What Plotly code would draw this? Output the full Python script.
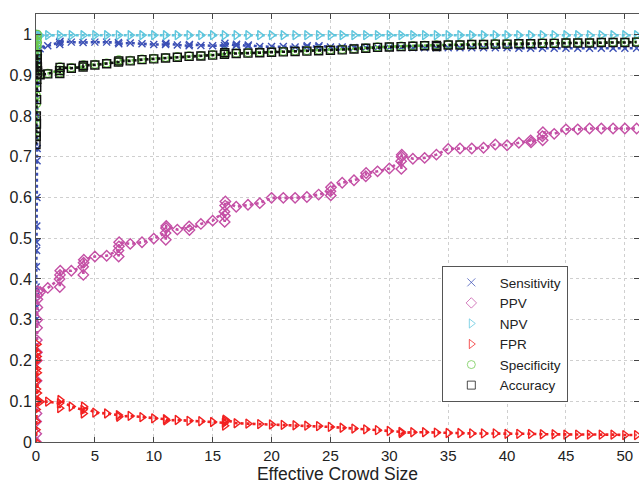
import plotly.graph_objects as go

# x positions
cluster_x = [0.0, 0.01, 0.02, 0.03, 0.04, 0.05, 0.06, 0.07, 0.08, 0.09, 0.10, 0.11, 0.12, 0.13, 0.14]
main_x = [0.35, 1, 2, 3, 4, 5, 6, 7, 8, 9, 10, 11, 12, 13, 14, 15, 16, 17, 18, 19, 20,
          21, 22, 23, 24, 25, 26, 27, 28, 29, 30, 31, 32, 33, 34, 35, 36, 37, 38, 39, 40,
          41, 42, 43, 44, 45, 46, 47, 48, 49, 50, 51]

# Sensitivity
sens_cluster = [0.30, 0.38, 0.33, 0.43, 0.36, 0.47, 0.49, 0.53, 0.60, 0.69, 0.72, 0.80, 0.88, 0.94, 0.965]
sens_main = [0.965, 0.972, 0.980, 0.981, 0.980, 0.981, 0.981, 0.980, 0.979, 0.977, 0.975,
             0.975, 0.974, 0.972, 0.973, 0.972, 0.973, 0.973, 0.971, 0.970, 0.970,
             0.970, 0.969, 0.969, 0.969, 0.969, 0.969, 0.968, 0.968, 0.968, 0.968,
             0.968, 0.967, 0.967, 0.967, 0.967, 0.967, 0.967, 0.967, 0.967, 0.967,
             0.966, 0.966, 0.966, 0.966, 0.966, 0.966, 0.966, 0.966, 0.966, 0.966, 0.966]
sens_blob_x = [2.02, 2.04, 7.03, 11.03, 13.03, 16.02, 16.04, 17.03, 18.03, 23.03, 24.03]
sens_blob_y = [0.975, 0.983, 0.977, 0.978, 0.975, 0.968, 0.978, 0.976, 0.974, 0.972, 0.972]

# PPV
ppv_cluster = [0.0, 0.05, 0.02, 0.10, 0.07, 0.15, 0.20, 0.25, 0.22, 0.28, 0.30, 0.33, 0.35, 0.36, 0.37]
ppv_main = [0.368, 0.378, 0.400, 0.420, 0.430, 0.455, 0.457, 0.470, 0.486, 0.490, 0.499,
            0.513, 0.521, 0.529, 0.535, 0.543, 0.565, 0.577, 0.582, 0.586, 0.599,
            0.599, 0.599, 0.601, 0.607, 0.615, 0.636, 0.642, 0.652, 0.664, 0.671,
            0.689, 0.695, 0.697, 0.705, 0.719, 0.720, 0.720, 0.722, 0.730, 0.728,
            0.734, 0.740, 0.750, 0.756, 0.767, 0.767, 0.769, 0.769, 0.769, 0.769, 0.769]
ppv_blob_x = [2.02, 2.04, 2.06, 4.02, 4.04, 4.06, 7.02, 7.04, 7.06, 11.02, 11.04, 11.06,
              13.03, 16.02, 16.04, 16.06, 16.08, 25.03, 25.05, 28.03, 31.02, 31.04, 31.06,
              42.03, 43.02, 43.04]
ppv_blob_y = [0.380, 0.410, 0.420, 0.410, 0.440, 0.447, 0.455, 0.480, 0.490, 0.496, 0.525, 0.530,
              0.520, 0.540, 0.555, 0.580, 0.590, 0.605, 0.625, 0.660, 0.670, 0.700, 0.705,
              0.735, 0.740, 0.760]

# NPV
npv_cluster = [0.93, 0.95, 0.94, 0.96, 0.97, 0.98, 0.99, 1.0, 0.99, 1.0, 0.995, 1.0, 0.998, 0.997, 0.997]
npv_main = [0.997, 0.998, 0.998, 0.998, 0.998, 0.998, 0.998, 0.998, 0.998, 0.998, 0.998,
            0.998, 0.998, 0.998, 0.998, 0.998, 0.998, 0.998, 0.998, 0.998, 0.998,
            0.998, 0.998, 0.998, 0.998, 0.998, 0.998, 0.998, 0.998, 0.998, 0.998,
            0.998, 0.998, 0.998, 0.998, 0.998, 0.998, 0.998, 0.998, 0.998, 0.998,
            0.998, 0.998, 0.998, 0.998, 0.998, 0.998, 0.998, 0.998, 0.998, 0.998, 0.998]

# FPR
fpr_cluster = [0.0, 0.03, 0.05, 0.08, 0.10, 0.13, 0.15, 0.18, 0.20, 0.22, 0.24, 0.21, 0.17, 0.12, 0.10]
fpr_main = [0.099, 0.099, 0.095, 0.087, 0.079, 0.072, 0.070, 0.066, 0.064, 0.061, 0.058,
            0.056, 0.054, 0.052, 0.051, 0.049, 0.047, 0.046, 0.045, 0.044, 0.043,
            0.042, 0.041, 0.040, 0.039, 0.037, 0.035, 0.033, 0.031, 0.029, 0.027,
            0.025, 0.024, 0.024, 0.023, 0.022, 0.022, 0.021, 0.021, 0.021, 0.020,
            0.020, 0.020, 0.019, 0.019, 0.018, 0.018, 0.018, 0.018, 0.018, 0.017, 0.017]
fpr_blob_x = [2.02, 2.04, 4.02, 4.04, 7.03, 11.03, 16.02, 16.04, 16.06, 31.03]
fpr_blob_y = [0.083, 0.103, 0.070, 0.087, 0.062, 0.053, 0.040, 0.052, 0.055, 0.022]

# Specificity
spec_cluster = [0.75, 0.80, 0.78, 0.85, 0.83, 0.88, 0.90, 0.92, 0.95, 0.97, 0.99, 1.0, 0.98, 0.95, 0.91]
spec_main = [0.902, 0.904, 0.912, 0.918, 0.921, 0.926, 0.929, 0.933, 0.936, 0.939, 0.941,
             0.943, 0.945, 0.947, 0.948, 0.950, 0.952, 0.954, 0.955, 0.956, 0.957,
             0.958, 0.959, 0.960, 0.961, 0.962, 0.963, 0.965, 0.967, 0.969, 0.970,
             0.971, 0.972, 0.973, 0.974, 0.975, 0.975, 0.976, 0.976, 0.977, 0.977,
             0.978, 0.978, 0.979, 0.979, 0.980, 0.980, 0.980, 0.981, 0.981, 0.981, 0.982]
spec_blob_x = [2.02, 2.04, 4.03, 7.03, 16.03]
spec_blob_y = [0.905, 0.920, 0.925, 0.937, 0.956]

# Accuracy
acc_cluster = [0.73, 0.76, 0.75, 0.80, 0.78, 0.84, 0.87, 0.89, 0.91, 0.93, 0.95, 0.94, 0.92, 0.91, 0.905]
acc_main = [0.901, 0.903, 0.911, 0.917, 0.920, 0.925, 0.928, 0.932, 0.935, 0.938, 0.940,
            0.942, 0.944, 0.946, 0.947, 0.949, 0.951, 0.953, 0.954, 0.955, 0.956,
            0.957, 0.958, 0.959, 0.960, 0.961, 0.962, 0.964, 0.966, 0.968, 0.969,
            0.970, 0.971, 0.972, 0.973, 0.974, 0.974, 0.975, 0.975, 0.976, 0.976,
            0.977, 0.977, 0.978, 0.978, 0.979, 0.979, 0.979, 0.980, 0.980, 0.980, 0.981]
acc_blob_x = [2.02, 2.04, 4.03, 7.03, 16.03, 34.03]
acc_blob_y = [0.904, 0.919, 0.924, 0.935, 0.955, 0.970]

names = ["Sensitivity", "PPV", "NPV", "FPR", "Specificity", "Accuracy"]
colors = ["#3b4fb5", "#c44fa5", "#5ec6dd", "#f22020", "#6cc84c", "#111111"]
symbols = ["x-thin-open", "diamond-open", "triangle-right-open", "triangle-right-open",
           "circle-open", "square-open"]


def combine(cy, my, bx=None, by=None):
    pts = list(zip(cluster_x, cy)) + list(zip(main_x, my))
    if bx:
        pts += list(zip(bx, by))
    pts.sort(key=lambda p: p[0])
    return [p[0] for p in pts], [p[1] for p in pts]


series = [
    combine(sens_cluster, sens_main, sens_blob_x, sens_blob_y),
    combine(ppv_cluster, ppv_main, ppv_blob_x, ppv_blob_y),
    combine(npv_cluster, npv_main),
    combine(fpr_cluster, fpr_main, fpr_blob_x, fpr_blob_y),
    combine(spec_cluster, spec_main, spec_blob_x, spec_blob_y),
    combine(acc_cluster, acc_main, acc_blob_x, acc_blob_y),
]

fig = go.Figure()
for (xs, ys), name, c, s in zip(series, names, colors, symbols):
    msize = 8 if s != "x-thin-open" else 7
    fig.add_trace(go.Scatter(
        x=xs, y=ys, mode="lines+markers", name=name, showlegend=False,
        line=dict(color=c, width=2.6, dash="dot"),
        marker=dict(symbol=s, size=msize, color=c, line=dict(color=c, width=1.4)),
    ))
for name, c, s in zip(names, colors, symbols):
    fig.add_trace(go.Scatter(
        x=[None], y=[None], mode="markers", name=name, showlegend=True,
        marker=dict(symbol=s, size=8, color=c, opacity=0.75, line=dict(color=c, width=1)),
    ))

axis_common = dict(
    showline=True, linecolor="#555555", linewidth=1, mirror="ticks",
    ticks="inside", ticklen=5, tickcolor="#444444",
    showgrid=True, gridcolor="#cfcfcf", griddash="dot", gridwidth=1,
    zeroline=False, automargin=False,
)

fig.update_layout(
    width=639, height=484,
    margin=dict(l=36, r=0, t=14, b=42),
    plot_bgcolor="white", paper_bgcolor="white",
    font=dict(family="Liberation Sans, Arial", color="#222222"),
    xaxis=dict(range=[0, 51.2], tickmode="array",
               tickvals=[0, 5, 10, 15, 20, 25, 30, 35, 40, 45, 50],
               tickfont=dict(size=15, color="#222222"),
               title=dict(text="Effective Crowd Size", font=dict(size=17.5), standoff=5),
               **axis_common),
    yaxis=dict(range=[0, 1.05], tickmode="array",
               tickvals=[0, 0.1, 0.2, 0.3, 0.4, 0.5, 0.6, 0.7, 0.8, 0.9, 1],
               ticktext=["0", "0.1", "0.2", "0.3", "0.4", "0.5", "0.6", "0.7", "0.8", "0.9", "1"],
               tickfont=dict(size=16, color="#222222"),
               **axis_common),
    legend=dict(x=0.673, y=0.411, xanchor="left", yanchor="top",
                bgcolor="white", bordercolor="#555555", borderwidth=1,
                font=dict(size=13.5, color="#222222"), itemwidth=47,
                tracegroupgap=0),
)

fig.write_html("out.html", config={"displayModeBar": False},
               post_script="document.body.style.margin='0';document.body.style.padding='0';")
